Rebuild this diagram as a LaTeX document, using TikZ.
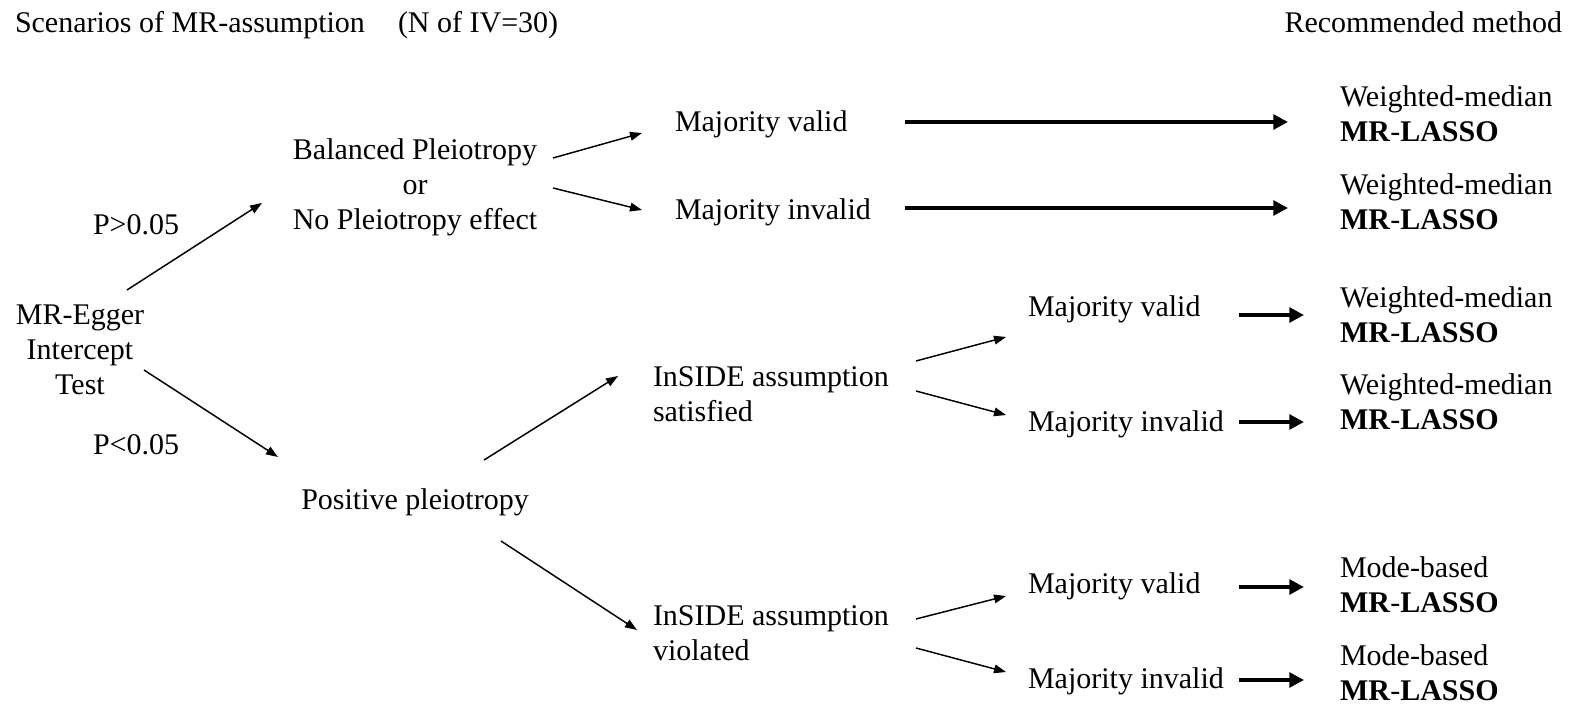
\documentclass[tikz,border=0pt]{standalone}
\usepackage{fontspec}
\setmainfont{Liberation Serif}
\usetikzlibrary{arrows.meta}
\newcommand\mlL[1]{\begin{tabular}[t]{@{}l@{}}#1\end{tabular}}
\newcommand\mlC[1]{\begin{tabular}[t]{@{}c@{}}#1\end{tabular}}
\tikzset{
  txt/.style={inner sep=0pt, outer sep=0pt, font=\fontsize{22.5}{26.25}\selectfont},
  thin arrow/.style={line width=1.1pt, -{Triangle[length=9pt,width=6.5pt]}},
  thick arrow/.style={line width=3.6pt, -{Triangle[length=11pt,width=11pt]}}
}
\begin{document}
\begin{tikzpicture}[x=0.75pt,y=-0.75pt]
\useasboundingbox (0,0) rectangle (1574,705);
% header
\node[txt,anchor=base west] (title) at (15,33) {Scenarios of MR-assumption};
\node[txt,anchor=base west] (niv) at (398,33) {(N of IV=30)};
\node[txt,anchor=base east] (recm) at (1562,33) {Recommended method};
% left
\node[txt,anchor=base] (egger) at (80,325) {\mlC{MR-Egger\\Intercept\\Test}};
\node[txt,anchor=base west] (pgt) at (93,235) {P>0.05};
\node[txt,anchor=base west] (plt) at (93,455) {P<0.05};
\node[txt,anchor=base] (bal) at (415,160) {\mlC{Balanced Pleiotropy\\or\\No Pleiotropy effect}};
\node[txt,anchor=base] (pos) at (415,510) {Positive pleiotropy};
% middle
\node[txt,anchor=base west] (mv1) at (675,132) {Majority valid};
\node[txt,anchor=base west] (mi1) at (675,220) {Majority invalid};
\node[txt,anchor=base west] (sat) at (653,387) {\mlL{InSIDE assumption\\satisfied}};
\node[txt,anchor=base west] (vio) at (653,625) {\mlL{InSIDE assumption\\violated}};
\node[txt,anchor=base west] (mv2) at (1028,317) {Majority valid};
\node[txt,anchor=base west] (mi2) at (1028,432) {Majority invalid};
\node[txt,anchor=base west] (mv3) at (1028,593) {Majority valid};
\node[txt,anchor=base west] (mi3) at (1028,688) {Majority invalid};
% recommended
\node[txt,anchor=base west] (rec1) at (1340,107) {\mlL{Weighted-median\\\textbf{MR}-\textbf{LASSO}}};
\node[txt,anchor=base west] (rec2) at (1340,195) {\mlL{Weighted-median\\\textbf{MR}-\textbf{LASSO}}};
\node[txt,anchor=base west] (rec3) at (1340,308) {\mlL{Weighted-median\\\textbf{MR}-\textbf{LASSO}}};
\node[txt,anchor=base west] (rec4) at (1340,395) {\mlL{Weighted-median\\\textbf{MR}-\textbf{LASSO}}};
\node[txt,anchor=base west] (rec5) at (1340,577) {\mlL{Mode-based\\\textbf{MR}-\textbf{LASSO}}};
\node[txt,anchor=base west] (rec6) at (1340,665) {\mlL{Mode-based\\\textbf{MR}-\textbf{LASSO}}};
% thin arrows
\draw[thin arrow] ([shift={(47,-35)}]egger.base) -- ([shift={(-153,43)}]bal.base);
\draw[thin arrow] ([shift={(64,45)}]egger.base) -- ([shift={(-137,-53)}]pos.base);
\draw[thin arrow] ([shift={(138,-2)}]bal.base) -- ([shift={(-33,1)}]mv1.base west);
\draw[thin arrow] ([shift={(138,28)}]bal.base) -- ([shift={(-33,-10)}]mi1.base west);
\draw[thin arrow] ([shift={(69,-50)}]pos.base) -- ([shift={(-35,-11)}]sat.base west);
\draw[thin arrow] ([shift={(86,31)}]pos.base) -- ([shift={(-16,5)}]vio.base west);
\draw[thin arrow] ([shift={(263,-26)}]sat.base west) -- ([shift={(-22,20)}]mv2.base west);
\draw[thin arrow] ([shift={(263,4)}]sat.base west) -- ([shift={(-22,-17)}]mi2.base west);
\draw[thin arrow] ([shift={(263,-6)}]vio.base west) -- ([shift={(-22,3)}]mv3.base west);
\draw[thin arrow] ([shift={(263,23)}]vio.base west) -- ([shift={(-22,-16)}]mi3.base west);
% thick arrows
\draw[thick arrow] ([shift={(230,-10)}]mv1.base west) -- ([shift={(-52,15)}]rec1.base west);
\draw[thick arrow] ([shift={(230,-12)}]mi1.base west) -- ([shift={(-52,13)}]rec2.base west);
\draw[thick arrow] ([shift={(211,-2)}]mv2.base west) -- ([shift={(-36,7)}]rec3.base west);
\draw[thick arrow] ([shift={(211,-10)}]mi2.base west) -- ([shift={(-36,27)}]rec4.base west);
\draw[thick arrow] ([shift={(211,-6)}]mv3.base west) -- ([shift={(-36,10)}]rec5.base west);
\draw[thick arrow] ([shift={(211,-8)}]mi3.base west) -- ([shift={(-36,15)}]rec6.base west);
\end{tikzpicture}
\end{document}
